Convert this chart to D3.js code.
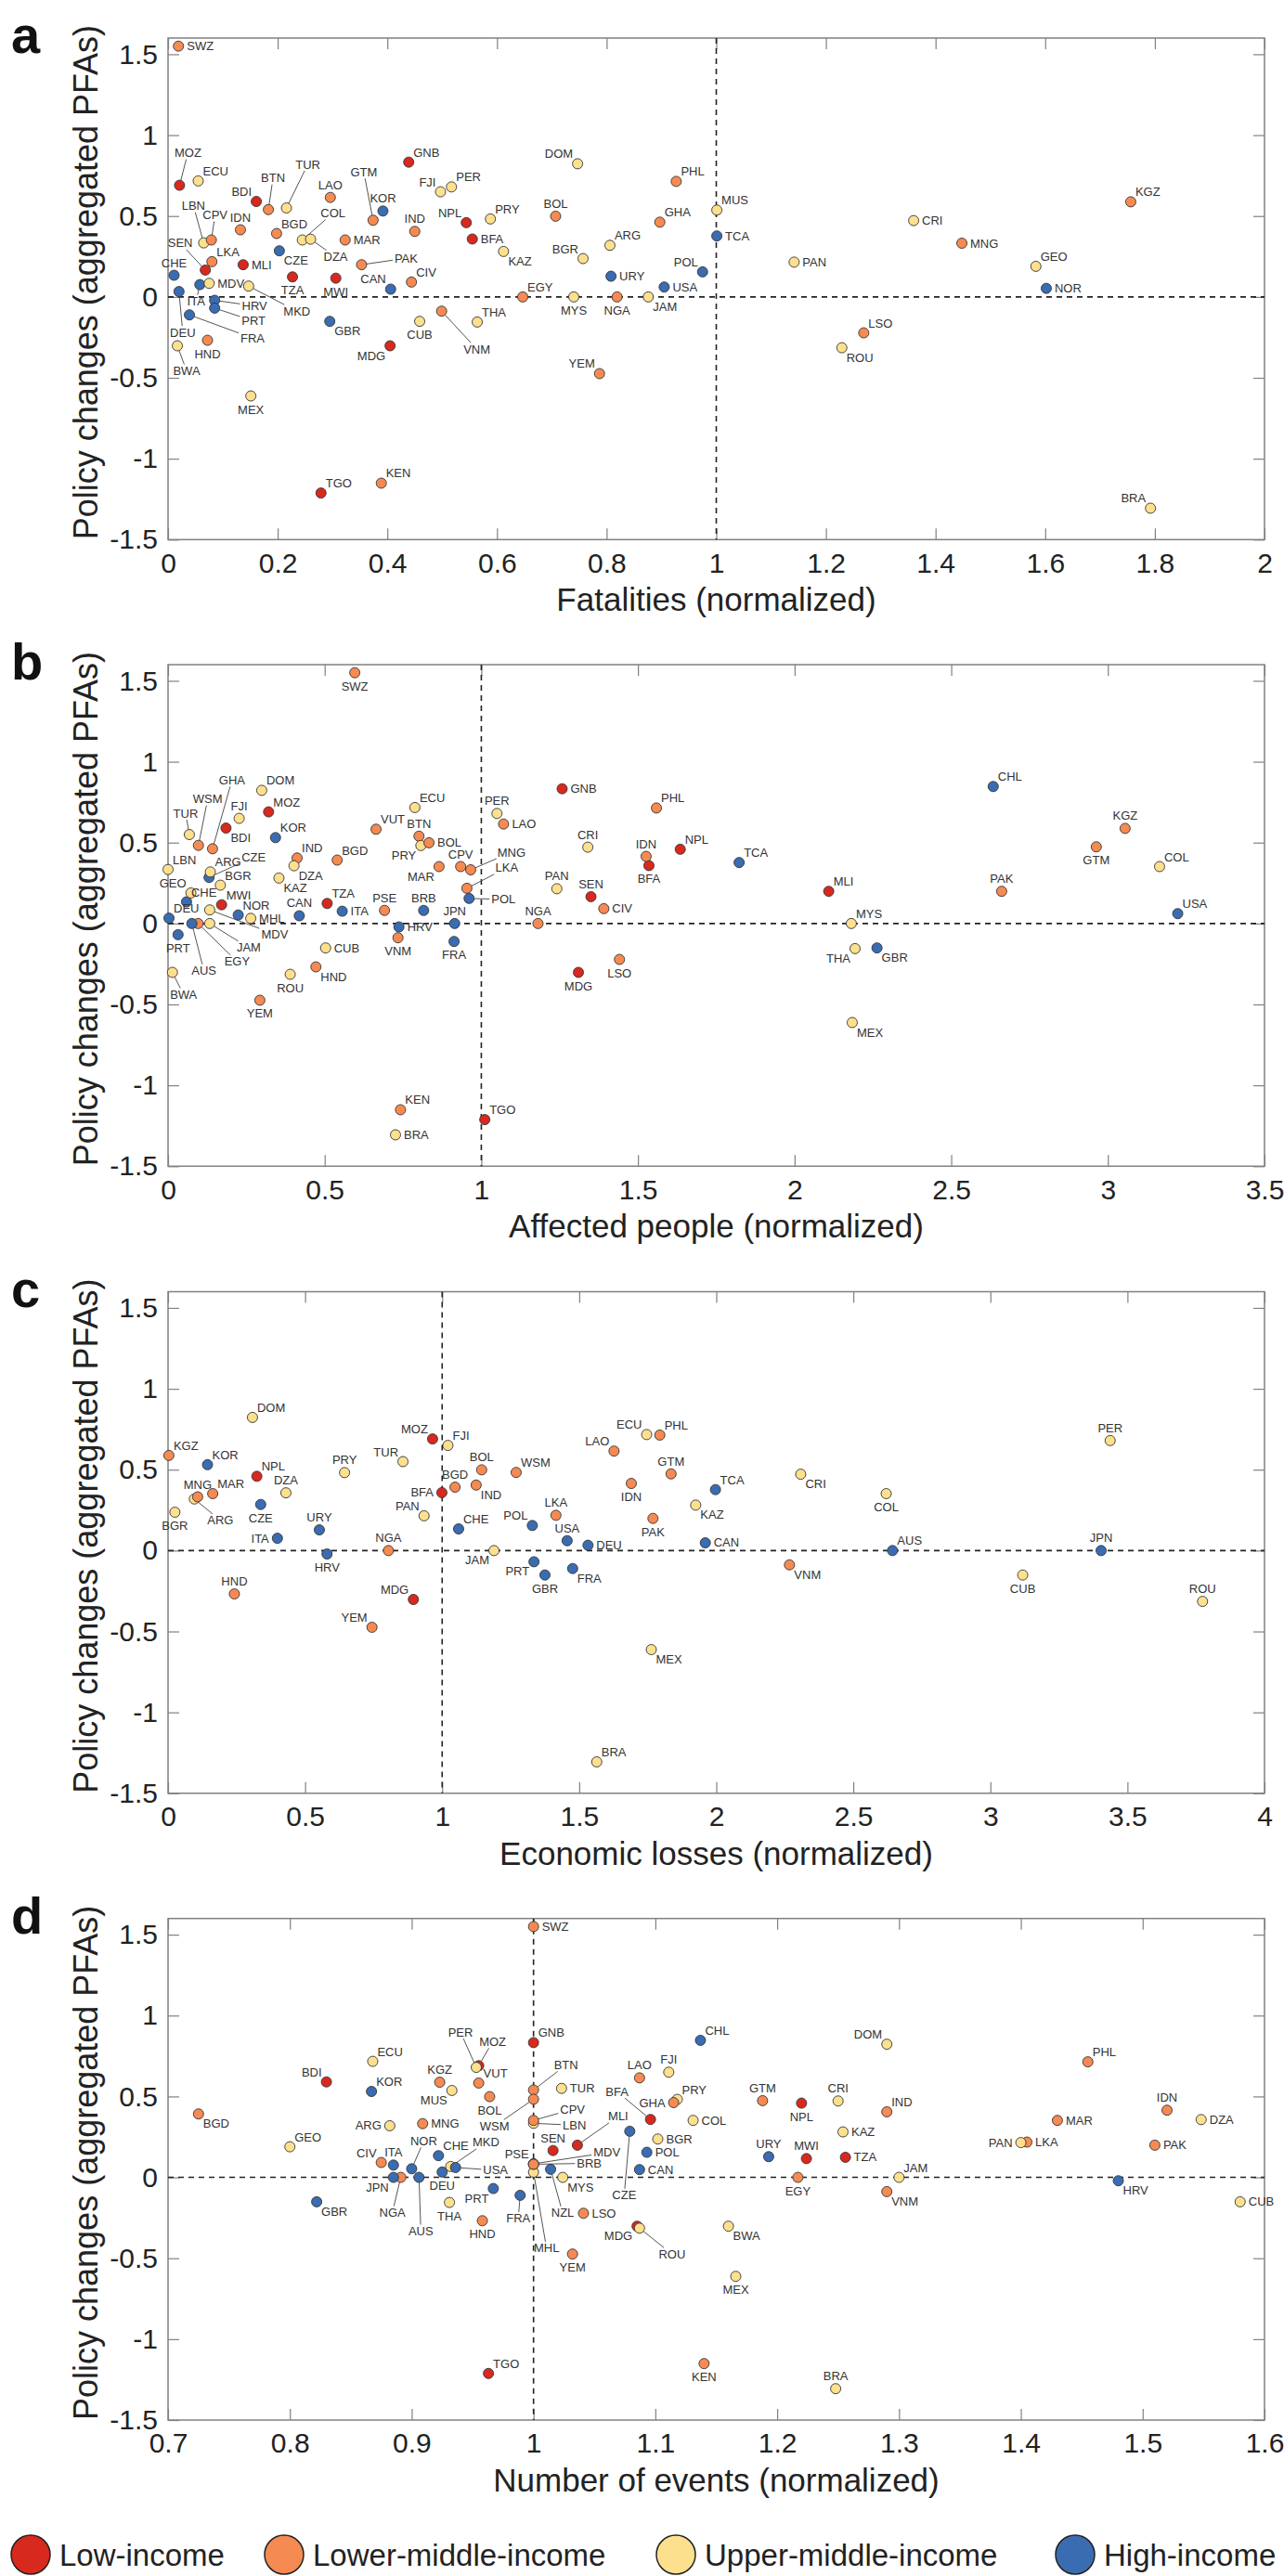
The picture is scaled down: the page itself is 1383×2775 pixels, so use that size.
<!DOCTYPE html>
<html>
<head>
<meta charset="utf-8">
<script src="https://cdn.jsdelivr.net/npm/d3@7"></script>
<style>
  body { margin: 0; background: #fff; }
  svg { display: block; }
  text { font-family: "Liberation Sans", Arial, Helvetica, sans-serif; }
</style>
</head>
<body>
<svg id="chart" width="1383" height="2775"></svg>
<script>
// country codes, income group (0 low .. 3 high) and the y value shared by all panels
const countries = ["SWZ","MOZ","ECU","BDI","BTN","TUR","LAO","GTM","KOR","GNB",
  "FJI","PER","NPL","BFA","IND","LBN","CPV","IDN","BGD","COL",
  "DZA","MAR","CZE","SEN","LKA","MLI","PAK","CHE","DEU","ITA",
  "MDV","MKD","TZA","MWI","CAN","CIV","HRV","PRT","FRA","VNM",
  "GBR","CUB","MDG","HND","BWA","MEX","TGO","KEN","THA","DOM",
  "PHL","PRY","BOL","GHA","MUS","TCA","KAZ","BGR","ARG","URY",
  "POL","USA","EGY","MYS","NGA","JAM","YEM","CRI","MNG","KGZ",
  "PAN","GEO","NOR","LSO","ROU","BRA","WSM","VUT","MHL","BRB",
  "PSE","JPN","AUS","CHL","NZL"];

const income = [1,0,2,0,1,2,1,1,3,0,
  2,2,0,0,1,2,1,1,1,2,
  2,1,3,0,1,0,1,3,3,3,
  2,2,0,0,3,1,3,3,3,1,
  3,2,0,1,2,2,0,1,2,2,
  1,2,1,1,2,3,2,2,2,3,
  3,3,1,2,1,2,1,2,1,1,
  2,2,3,1,2,2,1,1,2,3,
  1,3,3,3,3];

const policy = [1.55,0.69,0.717,0.59,0.54,0.55,0.615,0.474,0.531,0.833,
  0.65,0.68,0.459,0.358,0.405,0.334,0.352,0.415,0.392,0.352,
  0.357,0.352,0.285,0.166,0.218,0.199,0.199,0.134,0.033,0.076,
  0.084,0.067,0.124,0.116,0.048,0.092,-0.021,-0.069,-0.111,-0.088,
  -0.151,-0.151,-0.302,-0.268,-0.302,-0.612,-1.212,-1.151,-0.155,0.823,
  0.714,0.482,0.499,0.462,0.537,0.377,0.281,0.237,0.319,0.128,
  0.155,0.061,0,0,0,0,-0.474,0.472,0.332,0.588,
  0.215,0.189,0.053,-0.222,-0.314,-1.306,0.483,0.583,0.032,0.081,
  0.081,0,0,0.847,0.05];

// x values per panel (null = country not shown)
const fatalities = [0.019,0.021,0.055,0.161,0.183,0.216,0.296,0.374,0.392,0.439,
  0.497,0.517,0.544,0.555,0.45,0.065,0.079,0.132,0.198,0.245,
  0.26,0.323,0.203,0.068,0.08,0.137,0.353,0.011,0.02,0.058,
  0.075,0.147,0.227,0.306,0.406,0.444,0.085,0.085,0.039,0.499,
  0.295,0.459,0.405,0.072,0.017,0.151,0.279,0.389,0.564,0.747,
  0.927,0.588,0.707,0.897,1.001,1.001,0.612,0.757,0.806,0.808,
  0.975,0.905,0.647,0.74,0.819,0.876,0.787,1.36,1.448,1.756,
  1.142,1.583,1.602,1.269,1.229,1.792,null,null,null,null,
  null,null,null,null,null];

const affected = [0.596,0.321,0.788,0.185,0.801,0.068,1.071,2.963,0.343,1.258,
  0.227,1.05,1.635,1.535,0.412,0.0,0.934,1.526,0.54,3.165,
  0.402,0.865,0.131,1.35,0.954,2.109,2.661,0.059,0.003,0.556,
  0.133,null,0.508,0.171,0.419,1.391,0.737,0.032,0.913,0.734,
  2.263,0.503,1.31,0.472,0.014,2.184,1.011,0.742,2.193,0.299,
  1.559,0.807,0.833,0.142,null,1.823,0.354,0.167,0.135,null,
  0.961,3.223,0.096,2.181,1.181,0.133,0.293,1.34,0.966,3.055,
  1.241,0.073,0.224,1.441,0.39,0.726,0.097,0.664,0.264,0.816,
  0.691,0.915,0.076,2.634,null];

const losses = [null,0.965,1.746,null,null,0.857,1.627,1.835,0.144,null,
  1.021,3.437,0.324,0.999,1.124,null,null,1.69,1.047,2.62,
  0.43,0.163,0.338,null,1.415,null,1.769,1.06,1.532,0.399,
  null,null,null,null,1.96,null,0.58,1.335,1.476,2.267,
  1.375,3.118,0.895,0.242,null,1.763,null,null,null,0.308,
  1.794,0.644,1.144,null,null,1.997,1.925,0.025,0.096,0.552,
  1.329,1.456,null,null,0.804,1.189,0.744,2.308,0.108,0.003,
  0.934,null,null,null,3.774,1.564,1.27,null,null,null,
  null,3.404,2.643,null,null];

const events = [1.0,0.955,0.868,0.83,1.0,1.023,1.087,1.188,0.867,1.0,
  1.111,0.953,1.22,1.096,1.29,1.0,1.0,1.52,0.725,1.131,
  1.548,1.43,1.079,1.016,1.405,1.036,1.51,0.922,0.925,0.885,
  1.0,0.932,1.256,1.224,1.087,0.875,1.48,0.967,0.989,1.29,
  0.822,1.58,1.085,0.958,1.16,1.166,0.963,1.14,0.931,1.29,
  1.455,1.118,0.964,1.115,0.933,null,1.254,1.102,0.882,1.193,
  1.093,0.936,1.217,1.024,0.891,1.30,1.032,1.25,0.909,0.923,
  1.40,0.8,0.9,1.041,1.087,1.248,1.0,0.955,1.0,1.0,
  1.0,0.885,0.906,1.137,1.014];

const incomeGroups = ["Low-income", "Lower-middle-income", "Upper-middle-income", "High-income"];
const incomeColors = ["#d8291f", "#f58a52", "#fde08e", "#3a6cb2"];
const yTicks = [-1.5, -1, -0.5, 0, 0.5, 1, 1.5];

// where each label sits: preset code, or "dx,dy" for a label pulled out with a leader line
const labelsA = "SWZ:r MOZ:9,-35 ECU:tr BDI:tl BTN:5,-34 TUR:23,-47 LAO:t GTM:-10,-52 KOR:t GNB:tr FJI:tl PER:tr NPL:tl BFA:r IND:t LBN:-11,-40 CPV:4,-27 IDN:t BGD:tr COL:33,-29 DZA:27,19 MAR:r CZE:br SEN:-27,-29 LKA:tr MLI:r PAK:48,-7 CHE:t DEU:4,44 ITA:-4,18 MDV:r MKD:52,27 TZA:b MWI:b CAN:tl CIV:tr HRV:43,6 PRT:42,14 FRA:68,25 GBR:br CUB:b MDG:bl HND:b BWA:10,27 MEX:b TGO:tr KEN:tr VNM:38,41 THA:tr DOM:tl PHL:tr PRY:tr BOL:t GHA:tr MUS:tr TCA:r KAZ:br BGR:tl ARG:tr URY:r POL:tl USA:r EGY:tr MYS:b NGA:b JAM:br YEM:tl CRI:r MNG:r KGZ:tr PAN:r GEO:tr NOR:r LSO:tr ROU:br BRA:tl";
const labelsB = "SWZ:b GHA:21,-74 WSM:10,-50 TUR:-4,-23 DOM:tr FJI:t MOZ:tr BDI:br KOR:tr LBN:tr ARG:tr CZE:48,-22 IND:tr BGD:tr DZA:br GEO:tl BGR:tr KAZ:br CHE:tr MWI:tr NOR:tr MHL:r CAN:t TZA:tr ITA:r PSE:t BRB:t JPN:t DEU:tr MDV:70,26 JAM:42,26 EGY:42,41 AUS:13,51 PRT:b HRV:r VNM:b FRA:b CUB:r BWA:12,24 ROU:b HND:br YEM:b KEN:tr BRA:r VUT:tr ECU:tr BTN:t BOL:r PRY:bl MAR:bl CPV:t MNG:44,-19 LKA:43,-22 POL:37,1 GNB:r PER:t LAO:r CRI:t IDN:t NPL:tr BFA:b PHL:tr TCA:tr PAN:t SEN:t CIV:r NGA:t MLI:tr MYS:tr THA:bl GBR:br MEX:br MDG:b LSO:b TGO:tr CHL:tr KGZ:t GTM:b COL:tr PAK:t USA:tr";
const labelsC = "DOM:tr KGZ:tr KOR:tr NPL:tr MNG:t ARG:28,23 MAR:tr BGR:b CZE:b DZA:t ITA:l PRY:t URY:t HRV:b NGA:t TUR:tl PAN:tl MOZ:tl FJI:tr BFA:l BGD:t BOL:t IND:br WSM:tr CHE:tr JAM:bl POL:tl LKA:t USA:t DEU:r PRT:bl FRA:br GBR:b LAO:tl IDN:b ECU:tl PHL:tr GTM:t TCA:tr CRI:br KAZ:br PAK:b CAN:r COL:b AUS:tr JPN:t PER:t VNM:br CUB:b ROU:t MEX:br HND:t MDG:tl YEM:tl BRA:tr";
const labelsD = "BGD:br GEO:tr GBR:br BDI:tl ECU:tr KOR:tr ARG:l CIV:tl ITA:t JPN:bl NGA:-9,38 NOR:13,-30 AUS:2,58 KGZ:t MUS:bl MNG:r CHE:tr DEU:b MKD:38,-26 USA:43,3 THA:b PRT:bl HND:b FRA:-2,25 PER:-17,-38 MOZ:15,-26 VUT:tr BOL:b SWZ:r GNB:tr BTN:35,-27 WSM:-42,29 CPV:42,-12 LBN:44,2 SEN:t PSE:tl BRB:60,-1 MDV:79,-12 MHL:14,82 TUR:r MLI:44,-31 NZL:13,47 MYS:br LSO:r LAO:t FJI:t CHL:tr BFA:-36,-30 GHA:l PRY:tr COL:r CZE:-6,69 BGR:r POL:r CAN:r GTM:t NPL:b CRI:t KAZ:r URY:t MWI:t TZA:r EGY:b BWA:br MDG:bl ROU:35,28 YEM:b MEX:b TGO:tr KEN:b BRA:t DOM:tl PHL:tr IND:tr MAR:r IDN:t DZA:r PAK:r PAN:l LKA:r HRV:br CUB:r JAM:tr VNM:br";

const panels = [
  { letter: "a", title: "Fatalities (normalized)", values: fatalities, domain: [0, 2], ticks: d3.range(0, 2.001, 0.2), labels: labelsA },
  { letter: "b", title: "Affected people (normalized)", values: affected, domain: [0, 3.5], ticks: d3.range(0, 3.501, 0.5), labels: labelsB },
  { letter: "c", title: "Economic losses (normalized)", values: losses, domain: [0, 4], ticks: d3.range(0, 4.001, 0.5), labels: labelsC },
  { letter: "d", title: "Number of events (normalized)", values: events, domain: [0.7, 1.6], ticks: d3.range(0.7, 1.6001, 0.1), labels: labelsD }
];

const presets = {
  r: [9, 4.5, "start"], l: [-9, 4.5, "end"], t: [0, -9, "middle"], b: [0, 19, "middle"],
  tr: [5, -6, "start"], tl: [-5, -6, "end"], br: [5, 15, "start"], bl: [-5, 15, "end"]
};

const svg = d3.select("#chart");
const plotLeft = 181, plotRight = 1362, plotH = 540.3;
const panelTops = [41, 716, 1391.5, 2066.7];
const boxColor = "#808080";
const fmt = d => String(Math.round(d * 10) / 10);

function parseLabels(s) {
  const m = new Map();
  s.trim().split(/\s+/).forEach(tok => {
    const [k, v] = tok.split(":");
    m.set(k, v);
  });
  return m;
}

function styleAxis(sel, size) {
  sel.select(".domain").remove();
  sel.selectAll(".tick line").attr("stroke", boxColor).attr("stroke-width", 1.2);
  sel.selectAll(".tick text").attr("fill", "#222").style("font-size", size + "px")
    .style("font-family", '"Liberation Sans", Arial, sans-serif');
}

panels.forEach((p, k) => {
  const top = panelTops[k], bottom = top + plotH;
  const x = d3.scaleLinear().domain(p.domain).range([plotLeft, plotRight]);
  const y = d3.scaleLinear().domain([-1.5, 1.6]).range([bottom, top]);
  const g = svg.append("g");

  // axes with inward ticks on all four sides
  g.append("g").attr("transform", `translate(0,${bottom})`)
    .call(d3.axisBottom(x).tickValues(p.ticks).tickSize(-12).tickPadding(14).tickFormat(fmt))
    .call(s => styleAxis(s, 30));
  g.append("g").attr("transform", `translate(0,${top})`)
    .call(d3.axisTop(x).tickValues(p.ticks).tickSize(-12).tickFormat(""))
    .call(s => styleAxis(s, 30));
  g.append("g").attr("transform", `translate(${plotLeft},0)`)
    .call(d3.axisLeft(y).tickValues(yTicks).tickSize(-12).tickPadding(11).tickFormat(fmt))
    .call(s => styleAxis(s, 30));
  g.append("g").attr("transform", `translate(${plotRight},0)`)
    .call(d3.axisRight(y).tickValues(yTicks).tickSize(-12).tickFormat(""))
    .call(s => styleAxis(s, 30));

  g.append("rect")
    .attr("x", plotLeft).attr("y", top)
    .attr("width", plotRight - plotLeft).attr("height", plotH)
    .attr("fill", "none").attr("stroke", boxColor).attr("stroke-width", 1.5);

  // reference lines
  g.append("line")
    .attr("x1", plotLeft).attr("x2", plotRight).attr("y1", y(0)).attr("y2", y(0))
    .attr("stroke", "#222").attr("stroke-width", 1.6).attr("stroke-dasharray", "6,5");
  g.append("line")
    .attr("x1", x(1)).attr("x2", x(1)).attr("y1", top).attr("y2", bottom)
    .attr("stroke", "#222").attr("stroke-width", 1.6).attr("stroke-dasharray", "6,5");

  // axis titles and panel letter
  g.append("text")
    .attr("x", (plotLeft + plotRight) / 2).attr("y", bottom + 77)
    .attr("text-anchor", "middle").attr("fill", "#222").style("font-size", "35px")
    .text(p.title);
  g.append("text")
    .attr("transform", `translate(105,${(top + bottom) / 2 - 7}) rotate(-90)`)
    .attr("text-anchor", "middle").attr("fill", "#222").style("font-size", "36px")
    .text("Policy changes (aggregated PFAs)");
  g.append("text")
    .attr("x", 12).attr("y", top + 16)
    .attr("fill", "#111").style("font-size", "56px").style("font-weight", "bold")
    .text(p.letter);

  const pts = countries.map((c, i) => ({ c, inc: income[i], xv: p.values[i], yv: policy[i] }))
    .filter(d => d.xv !== null);
  const spec = parseLabels(p.labels);

  const gLines = g.append("g");
  const gDots = g.append("g");
  const gText = g.append("g");

  gDots.selectAll("circle")
    .data(pts)
    .enter()
    .append("circle")
    .attr("cx", d => x(d.xv))
    .attr("cy", d => y(d.yv))
    .attr("r", 5.5)
    .attr("fill", d => incomeColors[d.inc])
    .attr("stroke", "#333")
    .attr("stroke-width", 0.9);

  pts.forEach(d => {
    const px = x(d.xv), py = y(d.yv);
    const code = spec.get(d.c) || "tr";
    if (presets[code]) {
      const [dx, dy, anchor] = presets[code];
      gText.append("text")
        .attr("x", px + dx).attr("y", py + dy)
        .attr("text-anchor", anchor)
        .attr("fill", "#333").style("font-size", "13px")
        .text(d.c);
    } else {
      const [dx, dy] = code.split(",").map(Number);
      const t = gText.append("text")
        .attr("x", px + dx).attr("y", py + dy + 4.5)
        .attr("text-anchor", "middle")
        .attr("fill", "#333").style("font-size", "13px")
        .text(d.c);
      const w = t.node().getComputedTextLength();
      const ax = Math.abs(dx), ay = Math.abs(dy);
      const tt = Math.min(ax > 0 ? (w / 2 + 2) / ax : Infinity, ay > 0 ? 7 / ay : Infinity, 1);
      const ex = dx * (1 - tt), ey = dy * (1 - tt);
      const len = Math.hypot(dx, dy);
      const sx = dx / len * 5.5, sy = dy / len * 5.5;
      if (Math.hypot(ex, ey) > 6) {
        gLines.append("line")
          .attr("x1", px + sx).attr("y1", py + sy)
          .attr("x2", px + ex).attr("y2", py + ey)
          .attr("stroke", "#555").attr("stroke-width", 1);
      }
    }
  });
});

// legend
const legendX = [33, 306, 728, 1158];
const legendY = 2752;
const lg = svg.append("g");
lg.selectAll("circle")
  .data(incomeGroups)
  .enter()
  .append("circle")
  .attr("cx", (d, i) => legendX[i])
  .attr("cy", legendY)
  .attr("r", 21)
  .attr("fill", (d, i) => incomeColors[i])
  .attr("stroke", "#222")
  .attr("stroke-width", 1.5);
lg.selectAll("text")
  .data(incomeGroups)
  .enter()
  .append("text")
  .attr("x", (d, i) => legendX[i] + 31)
  .attr("y", legendY)
  .attr("dy", "0.35em")
  .attr("fill", "#222")
  .style("font-size", "33px")
  .text(d => d);
</script>
</body>
</html>
